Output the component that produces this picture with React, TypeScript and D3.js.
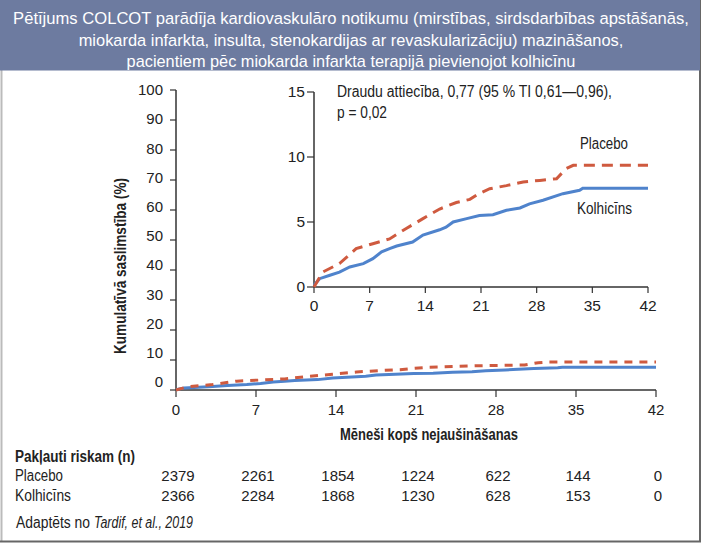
import React, { useEffect, useRef } from 'react';
import * as d3 from 'd3';

type Pt = [number, number];

const titleLines = [
  'Pētījums COLCOT parādīja kardiovaskulāro notikumu (mirstības, sirdsdarbības apstāšanās,',
  'miokarda infarkta, insulta, stenokardijas ar revaskularizāciju) mazināšanos,',
  'pacientiem pēc miokarda infarkta terapijā pievienojot kolhicīnu',
];
const titleWidths = [676, 545, 449];

const monthTicks = [0, 7, 14, 21, 28, 35, 42];
const mainYTicks = [0, 10, 20, 30, 40, 50, 60, 70, 80, 90, 100];
const insetYTicks = [0, 5, 10, 15];

// [month, cumulative %]
const placebo: Pt[] = [
  [0, 0], [1.1, 1.15], [3.2, 1.8], [5.3, 2.95], [7.4, 3.33], [9.5, 3.7], [11.6, 4.5],
  [13.7, 5.26], [15.8, 6.0], [17.9, 6.5], [19.6, 6.74], [20.8, 7.2], [22.1, 7.56],
  [24.2, 7.8], [26.3, 8.08], [28.4, 8.2], [30.5, 8.33], [31.7, 9.1], [32.6, 9.36], [42, 9.36],
];
const kolhicins: Pt[] = [
  [0, 0.13], [0.7, 0.64], [2.0, 0.9], [3.2, 1.15], [4.5, 1.54], [6.2, 1.8], [7.4, 2.18],
  [8.5, 2.7], [9.5, 2.95], [10.4, 3.15], [12.4, 3.46], [13.7, 4.0], [15.8, 4.4], [16.6, 4.6],
  [17.5, 5.0], [19.2, 5.26], [20.8, 5.5], [22.5, 5.56], [24.2, 5.9], [25.9, 6.08], [27.1, 6.4],
  [28.8, 6.67], [31.3, 7.18], [33.4, 7.44], [33.8, 7.6], [42, 7.6],
];

const riskRows = ['Placebo', 'Kolhicīns'];
const riskRowWidths = [48, 56];
const riskPlacebo = [2379, 2261, 1854, 1224, 622, 144, 0];
const riskKolhicins = [2366, 2284, 1868, 1230, 628, 153, 0];

const FONT = "'Liberation Sans', Arial, sans-serif";
const RED = '#cf5a3f';
const BLUE = '#4f83cc';
const AXIS = '#333';
const INK = '#222';

export default function App() {
  const ref = useRef<SVGSVGElement | null>(null);

  useEffect(() => {
    document.body.style.margin = '0';
    const svg = d3.select(ref.current);
    svg.selectAll('*').remove();
    const width = 702, height = 545;
    svg.attr('width', width).attr('height', height).style('display', 'block').style('font-family', FONT);

    // squeeze a label to the width it has in the picture (condensed face)
    const fit = (sel: any, w: number) => sel.attr('textLength', w).attr('lengthAdjust', 'spacingAndGlyphs');

    svg.append('rect').attr('width', width).attr('height', height).attr('fill', '#fff');
    // frame
    svg.append('line').attr('x1', 1.5).attr('x2', 1.5).attr('y1', 70).attr('y2', 542).attr('stroke', '#bbb').attr('stroke-width', 2);
    svg.append('line').attr('x1', 700).attr('x2', 700).attr('y1', 0).attr('y2', 542).attr('stroke', '#666').attr('stroke-width', 2);
    svg.append('line').attr('x1', 0).attr('x2', 701).attr('y1', 541.5).attr('y2', 541.5).attr('stroke', '#666').attr('stroke-width', 2);

    // banner
    svg.append('rect').attr('x', 0).attr('y', 0).attr('width', 700).attr('height', 70.5).attr('fill', '#6d7ba0');
    titleLines.forEach((t, i) => {
      const g = svg.append('g');
      const txt = g.append('text').attr('text-anchor', 'middle')
        .attr('fill', '#fff').attr('font-size', 17).text(t);
      const natural = (txt.node() as SVGTextElement).getComputedTextLength() || titleWidths[i];
      g.attr('transform', `translate(351,${24 + i * 21.5}) scale(${titleWidths[i] / natural},1)`);
    });

    // main chart
    const x = d3.scaleLinear().domain([0, 42]).range([176, 656]);
    const y = d3.scaleLinear().domain([0, 100]).range([390, 90]);
    const yLab = d3.scaleLinear().domain([0, 100]).range([382, 90]);

    const main = svg.append('g');
    main.append('line').attr('x1', x(0)).attr('x2', x(0)).attr('y1', y(100)).attr('y2', y(0)).attr('stroke', AXIS).attr('stroke-width', 1.5);
    main.append('line').attr('x1', x(0)).attr('x2', x(42)).attr('y1', y(0)).attr('y2', y(0)).attr('stroke', AXIS).attr('stroke-width', 1.5);
    main.selectAll('.yt').data(mainYTicks).join('line').attr('class', 'yt')
      .attr('x1', x(0) - 6).attr('x2', x(0)).attr('y1', d => y(d)).attr('y2', d => y(d)).attr('stroke', AXIS).attr('stroke-width', 1.2);
    main.selectAll('.yl').data(mainYTicks).join('text').attr('class', 'yl')
      .attr('x', 163).attr('y', d => yLab(d)).attr('dy', '0.35em').attr('text-anchor', 'end')
      .attr('font-size', 15).attr('fill', INK).text(d => d);
    main.selectAll('.xt').data(monthTicks).join('line').attr('class', 'xt')
      .attr('x1', d => x(d)).attr('x2', d => x(d)).attr('y1', y(0)).attr('y2', y(0) + 7).attr('stroke', AXIS).attr('stroke-width', 1.2);
    main.selectAll('.xl').data(monthTicks).join('text').attr('class', 'xl')
      .attr('x', d => x(d)).attr('y', 415).attr('text-anchor', 'middle')
      .attr('font-size', 15).attr('fill', INK).text(d => d);

    const mainLine = d3.line<Pt>().x(d => x(d[0])).y(d => y(d[1]));
    main.append('path').datum(kolhicins).attr('d', mainLine).attr('fill', 'none').attr('stroke', BLUE).attr('stroke-width', 3);
    main.append('path').datum(placebo).attr('d', mainLine).attr('fill', 'none').attr('stroke', RED).attr('stroke-width', 3).attr('stroke-dasharray', '8,7');

    fit(svg.append('text').attr('transform', 'translate(126,266) rotate(-90)')
      .attr('x', -88).attr('font-size', 16).attr('font-weight', 'bold').attr('fill', INK)
      .text('Kumulatīvā saslimstība (%)'), 176);
    fit(svg.append('text').attr('x', 340).attr('y', 440)
      .attr('font-size', 16).attr('font-weight', 'bold').attr('fill', INK)
      .text('Mēneši kopš nejaušināšanas'), 178);

    // inset
    const ix = d3.scaleLinear().domain([0, 42]).range([314, 648]);
    const iy = d3.scaleLinear().domain([0, 15]).range([287, 92]);
    const inset = svg.append('g');
    inset.append('line').attr('x1', ix(0)).attr('x2', ix(0)).attr('y1', iy(15)).attr('y2', iy(0)).attr('stroke', AXIS).attr('stroke-width', 1.5);
    inset.append('line').attr('x1', ix(0)).attr('x2', ix(42)).attr('y1', iy(0)).attr('y2', iy(0)).attr('stroke', AXIS).attr('stroke-width', 1.5);
    inset.selectAll('.yt').data(insetYTicks).join('line').attr('class', 'yt')
      .attr('x1', ix(0) - 7).attr('x2', ix(0)).attr('y1', d => iy(d)).attr('y2', d => iy(d)).attr('stroke', AXIS).attr('stroke-width', 1.2);
    inset.selectAll('.yl').data(insetYTicks).join('text').attr('class', 'yl')
      .attr('x', 305).attr('y', d => iy(d)).attr('dy', '0.35em').attr('text-anchor', 'end')
      .attr('font-size', 15.5).attr('fill', INK).text(d => d);
    inset.selectAll('.xt').data(monthTicks).join('line').attr('class', 'xt')
      .attr('x1', d => ix(d)).attr('x2', d => ix(d)).attr('y1', iy(0)).attr('y2', iy(0) + 6).attr('stroke', AXIS).attr('stroke-width', 1.2);
    inset.selectAll('.xl').data(monthTicks).join('text').attr('class', 'xl')
      .attr('x', d => ix(d)).attr('y', 311).attr('text-anchor', 'middle')
      .attr('font-size', 15.5).attr('fill', INK).text(d => d);

    const insetLine = d3.line<Pt>().x(d => ix(d[0])).y(d => iy(d[1]));
    inset.append('path').datum(kolhicins).attr('d', insetLine).attr('fill', 'none').attr('stroke', BLUE).attr('stroke-width', 3);
    inset.append('path').datum(placebo).attr('d', insetLine).attr('fill', 'none').attr('stroke', RED).attr('stroke-width', 3).attr('stroke-dasharray', '11,7');

    fit(inset.append('text').attr('x', 337).attr('y', 97).attr('font-size', 16).attr('fill', INK)
      .text('Draudu attiecība, 0,77 (95 % TI 0,61—0,96),'), 275);
    fit(inset.append('text').attr('x', 337).attr('y', 118).attr('font-size', 16).attr('fill', INK).text('p = 0,02'), 50);
    fit(inset.append('text').attr('x', 580).attr('y', 149).attr('font-size', 16).attr('fill', INK).text('Placebo'), 48);
    fit(inset.append('text').attr('x', 577).attr('y', 214).attr('font-size', 16).attr('fill', INK).text('Kolhicīns'), 55);

    // risk table
    const tbl = svg.append('g').attr('fill', INK).attr('font-size', 16);
    fit(tbl.append('text').attr('x', 15).attr('y', 462).attr('font-weight', 'bold').text('Pakļauti riskam (n)'), 120);
    riskRows.forEach((r, i) => {
      fit(tbl.append('text').attr('x', 15).attr('y', 481 + i * 19.5).text(r), riskRowWidths[i]);
    });
    [riskPlacebo, riskKolhicins].forEach((row, r) => {
      tbl.append('g').selectAll('text').data(row).join('text')
        .attr('x', (_, i) => x(monthTicks[i]) + 2).attr('y', 481 + r * 19.5).attr('text-anchor', 'middle')
        .attr('font-size', 15)
        .text(d => d);
    });

    fit(svg.append('text').attr('x', 16).attr('y', 528).attr('font-size', 16).attr('fill', INK).text('Adaptēts no'), 74);
    fit(svg.append('text').attr('x', 94).attr('y', 528).attr('font-size', 16).attr('font-style', 'italic').attr('fill', INK)
      .text('Tardif, et al., 2019'), 99);
  }, []);

  return <svg ref={ref} />;
}
